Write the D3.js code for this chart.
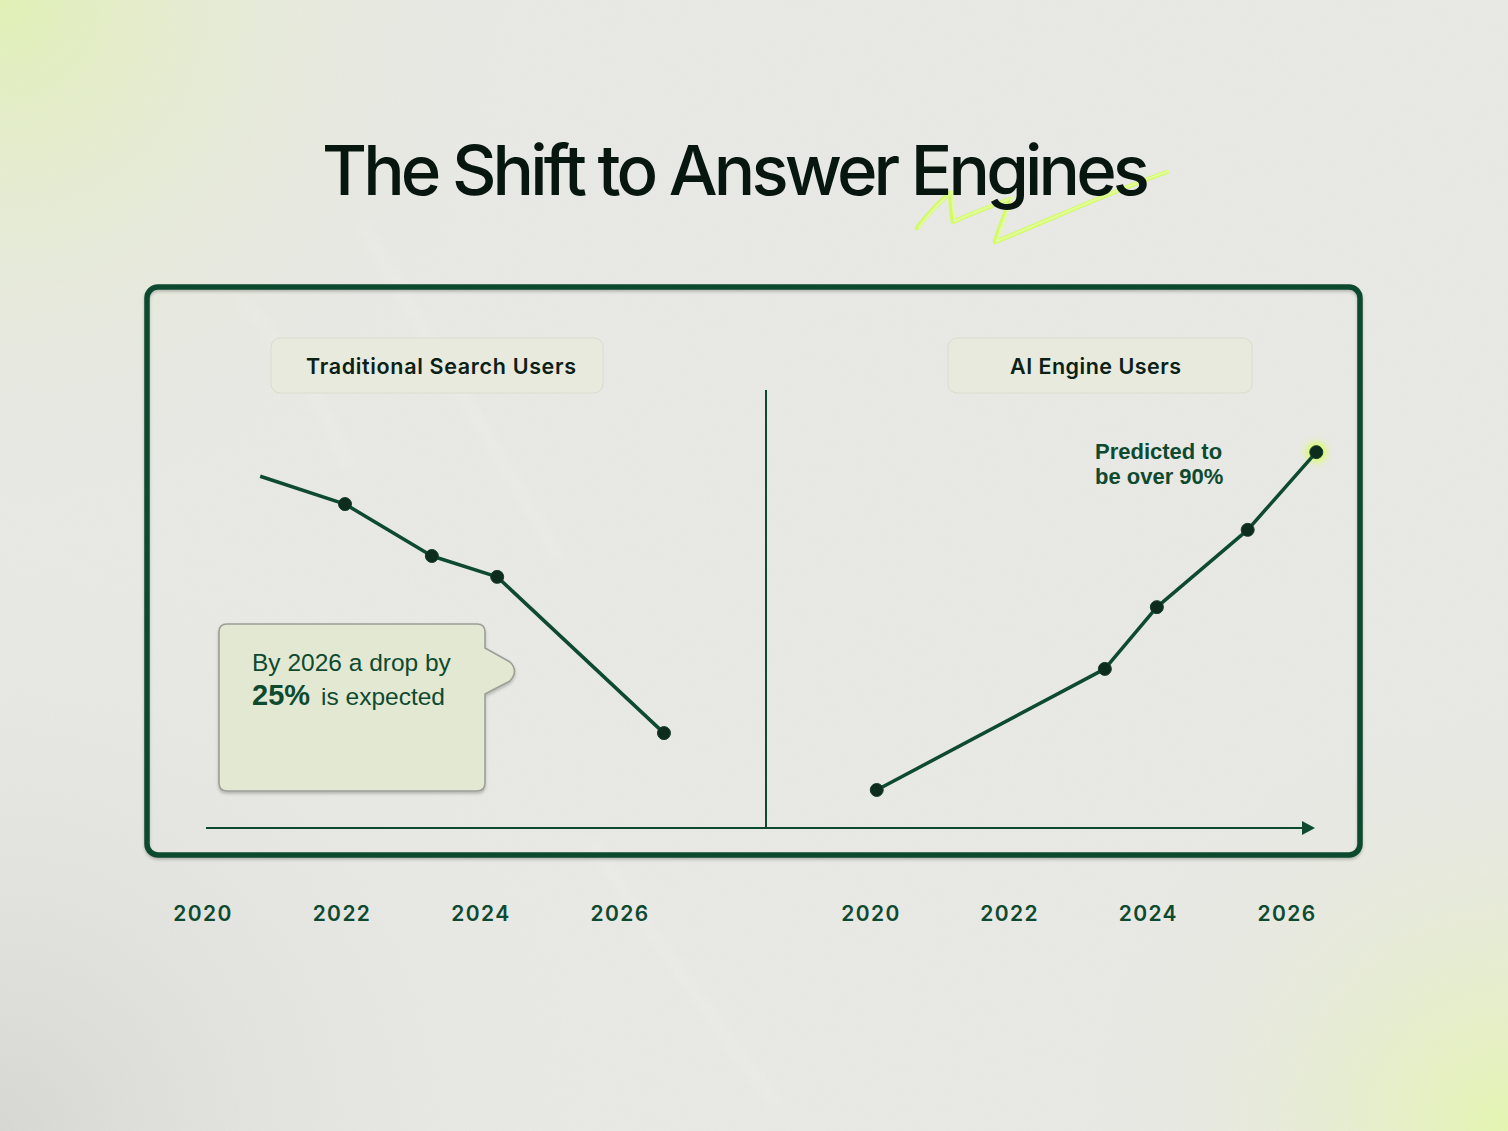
<!DOCTYPE html>
<html lang="en">
<head>
<meta charset="UTF-8">
<title>The Shift to Answer Engines</title>
<script src="https://d3js.org/d3.v7.min.js"></script>
<style>
  body { margin: 0; background: #e6e6e2; }
  svg { display: block; }
</style>
</head>
<body>
<div id="chart"></div>
<script>
const width = 1508, height = 1131;

// values (share of users, %)
const tickYears = [2020, 2022, 2024, 2026];
const tradYears = [2020.83, 2022.05, 2023.3, 2024.24, 2026.64];
const tradShare = [86, 79.2, 66.5, 61.4, 23.2];
const aiYears = [2020.09, 2023.38, 2024.13, 2025.44, 2026.43];
const aiShare = [9.3, 38.9, 54, 72.9, 91.9];
const panelTitles = ["Traditional Search Users", "AI Engine Users"];

const green = "#0e4a2f", dotFill = "#0d2c1e";

const svg = d3.select("#chart").append("svg")
    .attr("width", width).attr("height", height);

const defs = svg.append("defs");

// background washes
const tl = defs.append("radialGradient").attr("id", "tl")
    .attr("cx", 0).attr("cy", 0).attr("r", 520).attr("gradientUnits", "userSpaceOnUse");
tl.append("stop").attr("offset", 0).attr("stop-color", "#def0ae").attr("stop-opacity", 0.95);
tl.append("stop").attr("offset", 1).attr("stop-color", "#e6e6e2").attr("stop-opacity", 0);
const br = defs.append("radialGradient").attr("id", "br")
    .attr("cx", width).attr("cy", height).attr("r", 430).attr("gradientUnits", "userSpaceOnUse");
br.append("stop").attr("offset", 0).attr("stop-color", "#e2f5a8").attr("stop-opacity", 0.95);
br.append("stop").attr("offset", 1).attr("stop-color", "#e6e6e2").attr("stop-opacity", 0);
const bl = defs.append("radialGradient").attr("id", "bl")
    .attr("cx", 0).attr("cy", height).attr("r", 600).attr("gradientUnits", "userSpaceOnUse");
bl.append("stop").attr("offset", 0).attr("stop-color", "#cfcfcb").attr("stop-opacity", 0.8);
bl.append("stop").attr("offset", 1).attr("stop-color", "#e6e6e2").attr("stop-opacity", 0);

const noise = defs.append("filter").attr("id", "noise");
noise.append("feTurbulence").attr("type", "fractalNoise")
    .attr("baseFrequency", 0.9).attr("numOctaves", 2).attr("result", "n");
noise.append("feColorMatrix").attr("type", "matrix")
    .attr("values", "0 0 0 0 1  0 0 0 0 1  0 0 0 0 1  0 0 0 0.12 0");

const soft = defs.append("filter").attr("id", "soft");
soft.append("feGaussianBlur").attr("stdDeviation", 6);

const glow = defs.append("filter").attr("id", "glow")
    .attr("x", "-100%").attr("y", "-100%").attr("width", "300%").attr("height", "300%");
glow.append("feGaussianBlur").attr("stdDeviation", 3.5);

const shadow = defs.append("filter").attr("id", "shadow")
    .attr("x", "-5%").attr("y", "-5%").attr("width", "110%").attr("height", "110%");
shadow.append("feDropShadow").attr("dx", 0).attr("dy", 2).attr("stdDeviation", 1.5)
    .attr("flood-color", "#000").attr("flood-opacity", 0.22);

svg.append("rect").attr("width", width).attr("height", height).attr("fill", "#e6e6e2");
svg.append("rect").attr("width", width).attr("height", height).attr("fill", "url(#bl)");
svg.append("rect").attr("width", width).attr("height", height).attr("fill", "url(#tl)");
svg.append("rect").attr("width", width).attr("height", height).attr("fill", "url(#br)");
svg.append("rect").attr("width", width).attr("height", height).attr("filter", "url(#noise)");

// faint paper creases
const creases = ["M360,220 C420,330 480,420 560,560", "M590,840 C650,930 720,1030 780,1110",
    "M240,300 C300,360 330,420 350,470"];
svg.append("g").selectAll("path").data(creases).join("path")
    .attr("d", d => d).attr("fill", "none")
    .attr("stroke", "#f4f4f0").attr("stroke-width", 8).attr("opacity", 0.3)
    .attr("filter", "url(#soft)");

// lime scribble under the title
const scribble = "M917,228 C928,214 940,201 950,193 C951,205 951,214 953,222 C970,214 994,205 1010,199 C1005,214 999,229 995,242 C1040,224 1110,192 1167,172";
svg.append("path").attr("d", scribble).attr("fill", "none")
    .attr("stroke", "#d3fa6a").attr("stroke-width", 4.5)
    .attr("stroke-linecap", "round").attr("stroke-linejoin", "round");
svg.append("path").attr("d", scribble).attr("fill", "none")
    .attr("transform", "translate(2,-1)")
    .attr("stroke", "#e2fd98").attr("stroke-width", 2)
    .attr("stroke-linecap", "round");

// title
svg.append("text")
    .attr("x", 322).attr("y", 195)
    .attr("textLength", 828).attr("lengthAdjust", "spacing")
    .attr("font-family", "Inter, 'Noto Sans', sans-serif")
    .attr("font-weight", 500).attr("font-size", 69)
    .attr("fill", "#07160e")
    .text("The Shift to Answer Engines");

// frame
svg.append("rect")
    .attr("x", 147).attr("y", 287).attr("width", 1213).attr("height", 568)
    .attr("rx", 11).attr("fill", "none")
    .attr("stroke", green).attr("stroke-width", 5.5)
    .attr("filter", "url(#shadow)");

// panel label chips
const chips = [
    {x: 271, y: 338, w: 332, h: 55, tx: 306, tw: 270},
    {x: 948, y: 338, w: 304, h: 55, tx: 1010, tw: 171}
];
chips.forEach((c, i) => {
    svg.append("rect").attr("x", c.x).attr("y", c.y).attr("width", c.w).attr("height", c.h)
        .attr("rx", 9).attr("fill", "#e8eadc").attr("fill-opacity", 0.85)
        .attr("stroke", "#d9dccd").attr("stroke-width", 1);
    svg.append("text").attr("x", c.tx).attr("y", 374)
        .attr("textLength", c.tw).attr("lengthAdjust", "spacing")
        .attr("font-family", "Inter, 'Noto Sans', sans-serif")
        .attr("font-weight", 600).attr("font-size", 21.5)
        .attr("fill", "#0b2116")
        .text(panelTitles[i]);
});

// scales
const y = d3.scaleLinear().domain([0, 100]).range([828, 419]);
const xLeft = d3.scaleLinear().domain([2020, 2026]).range([202.5, 619.5]);
const xRight = d3.scaleLinear().domain([2020, 2026]).range([870.5, 1286.5]);

// baseline arrow and divider
svg.append("line").attr("x1", 206).attr("x2", 1304).attr("y1", 828).attr("y2", 828)
    .attr("stroke", green).attr("stroke-width", 2);
svg.append("path").attr("d", "M1302,821 L1315,828 L1302,835 Z").attr("fill", green);
svg.append("line").attr("x1", 766).attr("x2", 766).attr("y1", 390).attr("y2", 828)
    .attr("stroke", green).attr("stroke-width", 2);

// year axes
[xLeft, xRight].forEach(x => {
    const g = svg.append("g").attr("transform", "translate(0,893)")
        .call(d3.axisBottom(x).tickValues(tickYears).tickFormat(d3.format("d"))
            .tickSize(0).tickPadding(13));
    g.select(".domain").remove();
    g.selectAll("text")
        .attr("font-family", "Inter, 'Noto Sans', sans-serif")
        .attr("font-weight", 600).attr("font-size", 21)
        .attr("letter-spacing", 1.4)
        .attr("fill", green);
});

// series
const tradData = tradYears.map((yr, i) => ({x: yr, v: tradShare[i]}));
const aiData = aiYears.map((yr, i) => ({x: yr, v: aiShare[i]}));

function drawSeries(data, x, dotFrom) {
    svg.append("path").datum(data)
        .attr("d", d3.line().x(d => x(d.x)).y(d => y(d.v)))
        .attr("fill", "none").attr("stroke", green).attr("stroke-width", 3.5)
        .attr("stroke-linejoin", "round");
    svg.append("g").selectAll("circle").data(data.slice(dotFrom)).join("circle")
        .attr("cx", d => x(d.x)).attr("cy", d => y(d.v)).attr("r", 6.5)
        .attr("fill", dotFill).attr("stroke", "#163d2a").attr("stroke-width", 1);
}

// glow behind the last AI point
const last = aiData[aiData.length - 1];
svg.append("circle").attr("cx", xRight(last.x)).attr("cy", y(last.v)).attr("r", 10)
    .attr("fill", "#d8ff5c").attr("filter", "url(#glow)");

drawSeries(tradData, xLeft, 1);
drawSeries(aiData, xRight, 0);

// callout box
const bx0 = 219, by0 = 624, bx1 = 485, by1 = 791, r = 8;
const callout = `M${bx0 + r},${by0} H${bx1 - r} Q${bx1},${by0} ${bx1},${by0 + r} V648 L510,662 Q519,671 510,681 L${bx1},694 V${by1 - r} Q${bx1},${by1} ${bx1 - r},${by1} H${bx0 + r} Q${bx0},${by1} ${bx0},${by1 - r} V${by0 + r} Q${bx0},${by0} ${bx0 + r},${by0} Z`;
svg.append("path").attr("d", callout)
    .attr("fill", "#e3e8d2").attr("stroke", "#9c9f96").attr("stroke-width", 1.6)
    .attr("filter", "url(#shadow)");

const cText = svg.append("g")
    .attr("font-family", "'Liberation Sans', Arial, sans-serif").attr("fill", green);
cText.append("text").attr("x", 252).attr("y", 671).attr("font-size", 24.5)
    .text("By 2026 a drop by");
const l2 = cText.append("text").attr("x", 252).attr("y", 705);
l2.append("tspan").attr("font-size", 29).attr("font-weight", 700).text("25%");
l2.append("tspan").attr("font-size", 24.5).attr("dx", 11).text("is expected");

// prediction note
const note = svg.append("g")
    .attr("font-family", "'Liberation Sans', Arial, sans-serif")
    .attr("font-weight", 700).attr("font-size", 22).attr("fill", green);
note.append("text").attr("x", 1095).attr("y", 459).text("Predicted to");
note.append("text").attr("x", 1095).attr("y", 484).text("be over 90%");
</script>
</body>
</html>
